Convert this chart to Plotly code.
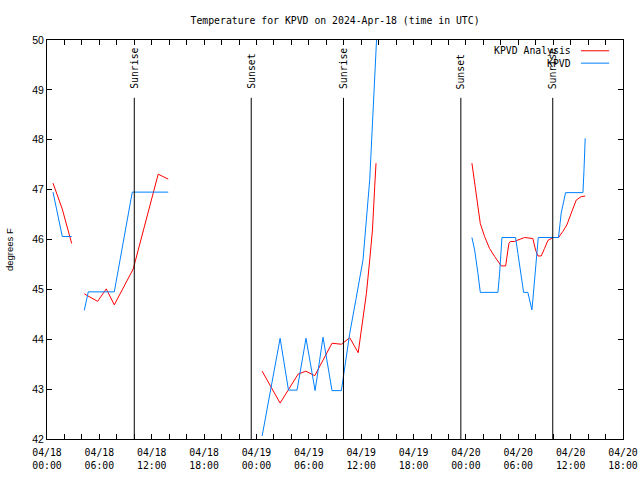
import plotly.graph_objects as go

# Hours since 2024-04-18 00:00 UTC; None marks gaps in the record
red_hours = [0.69, 1.75, 2.83, None,
             4.27, 5.80, 6.79, 7.71, 9.88, 12.74, 13.89, None,
             24.65, 26.71, 28.77, 29.65, 30.68, 32.66, 33.73, 34.69, 35.66,
             36.10, 36.60, 36.98, 37.29, 37.55, 37.70, None,
             48.69, 48.88, 49.11, 49.38, 49.65, 50.14, 50.71, 51.29, 51.78, 52.05,
             52.55, 52.93, 53.09, 53.58, 53.96, 54.72, 55.67, 55.98, 56.25, 56.63,
             57.01, 57.39, 57.96, 58.61, 59.10, 59.56, 60.07, 60.64, 61.21, 61.67]
red_temps = [47.13, 46.61, 45.92, None,
             44.91, 44.76, 45.01, 44.69, 45.41, 47.31, 47.21, None,
             43.36, 42.72, 43.30, 43.36, 43.27, 43.92, 43.90, 44.03, 43.73,
             44.32, 44.92, 45.59, 46.19, 47.06, 47.53, None,
             47.53, 47.29, 47.06, 46.66, 46.32, 46.06, 45.82, 45.66, 45.52, 45.47,
             45.47, 45.92, 45.96, 45.96, 45.99, 46.04, 46.02, 45.79, 45.67, 45.67,
             45.82, 45.98, 46.04, 46.04, 46.16, 46.29, 46.53, 46.79, 46.86, 46.87]

blue_hours = [0.69, 1.75, 2.83, None,
              4.27, 4.73, 7.71, 9.77, 13.89, None,
              24.65, 26.71, 27.67, 28.65, 29.68, 30.72, 31.63, 32.66, 33.73,
              34.69, 35.40, 36.21, 36.98, 37.29, 37.74, 37.90, None,
              48.69, 49.00, 49.38, 49.65, 51.67, 51.86, 52.13, 53.69, 53.96, 54.34,
              54.61, 55.10, 55.37, 55.56, 55.67, 56.06, 56.29, 58.61, 58.92, 59.42,
              61.41, 61.53, 61.67]
blue_temps = [46.95, 46.06, 46.06, None,
              44.58, 44.95, 44.95, 46.95, 46.95, None,
              42.06, 44.02, 42.98, 42.98, 44.02, 42.97, 44.04, 42.97, 42.97,
              44.12, 44.80, 45.59, 47.20, 48.30, 50.00, 50.50, None,
              46.04, 45.79, 45.32, 44.94, 44.94, 45.32, 46.04, 46.04, 45.72, 45.25,
              44.94, 44.94, 44.72, 44.59, 44.79, 45.59, 46.04, 46.04, 46.53, 46.94,
              46.94, 47.39, 48.03]

sun_hours = [10.0, 23.40, 33.97, 47.42, 57.95]
sun_labels = ["Sunrise", "Sunset", "Sunrise", "Sunset", "Sunrise"]

tick_hours = list(range(0, 67, 2))
major_labels = {0: "04/18<br>00:00", 6: "04/18<br>06:00", 12: "04/18<br>12:00",
                18: "04/18<br>18:00", 24: "04/19<br>00:00", 30: "04/19<br>06:00",
                36: "04/19<br>12:00", 42: "04/19<br>18:00", 48: "04/20<br>00:00",
                54: "04/20<br>06:00", 60: "04/20<br>12:00", 66: "04/20<br>18:00"}
tick_text = [major_labels.get(h, "") for h in tick_hours]

series_names = ["KPVD Analysis", "KPVD"]
series_colors = ["#ff0000", "#0080ff"]

MONO = "DejaVu Sans Mono"
SANS = "Liberation Sans"

fig = go.Figure()
fig.add_trace(go.Scatter(x=red_hours, y=red_temps, mode="lines", name=series_names[0],
                         line=dict(color=series_colors[0], width=1), showlegend=False,
                         connectgaps=False))
fig.add_trace(go.Scatter(x=blue_hours, y=blue_temps, mode="lines", name=series_names[1],
                         line=dict(color=series_colors[1], width=1), showlegend=False,
                         connectgaps=False))

shapes = []
annotations = []
for h, lab in zip(sun_hours, sun_labels):
    shapes.append(dict(type="line", xref="x", yref="paper", x0=h, x1=h, y0=0, y1=0.855,
                       line=dict(color="black", width=1)))
    annotations.append(dict(x=h, y=0.872, xref="x", yref="paper", text=lab, textangle=-90,
                            showarrow=False, xanchor="center", yanchor="bottom",
                            font=dict(family=MONO, size=9.8, color="black")))

# gnuplot-style key: text then line sample
key_rows = [0.973, 0.942]
for name, col, yy in zip(series_names, series_colors, key_rows):
    annotations.append(dict(x=0.913, y=yy, xref="paper", yref="paper", text=name,
                            showarrow=False, xanchor="right", yanchor="middle",
                            font=dict(family=MONO, size=9.8, color="black")))
    shapes.append(dict(type="line", xref="paper", yref="paper", x0=0.927, x1=0.976,
                       y0=yy, y1=yy, line=dict(color=col, width=1)))

annotations.append(dict(x=-0.066, y=0.476, xref="paper", yref="paper", text="degrees F",
                        textangle=-90, showarrow=False, xanchor="center", yanchor="middle",
                        font=dict(family=SANS, size=9.5, color="black")))

fig.update_layout(
    width=640, height=480,
    margin=dict(l=47, r=17, t=40, b=41, autoexpand=False),
    paper_bgcolor="white", plot_bgcolor="white",
    title=dict(text="Temperature for KPVD on 2024-Apr-18 (time in UTC)",
               x=0.5235, xanchor="center", y=0.958, yanchor="middle", automargin=False,
               font=dict(family=MONO, size=9.8, color="black")),
    shapes=shapes, annotations=annotations,
    xaxis=dict(range=[0, 66], tickmode="array", tickvals=tick_hours, ticktext=tick_text,
               ticks="inside", ticklen=5, tickcolor="black", showline=True,
               linecolor="black", linewidth=1, mirror="ticks", showgrid=False,
               zeroline=False, automargin=False, ticklabelstandoff=4,
               tickfont=dict(family=MONO, size=9.8, color="black")),
    yaxis=dict(range=[42, 50], tickmode="linear", tick0=42, dtick=1,
               ticks="inside", ticklen=5, tickcolor="black", showline=True,
               linecolor="black", linewidth=1, mirror="ticks", showgrid=False,
               zeroline=False, automargin=False,
               tickfont=dict(family=SANS, size=10.5, color="black")),
)

fig.write_html("out.html", config={"displayModeBar": False},
               post_script="document.body.style.margin='0';document.body.style.overflow='hidden';")
